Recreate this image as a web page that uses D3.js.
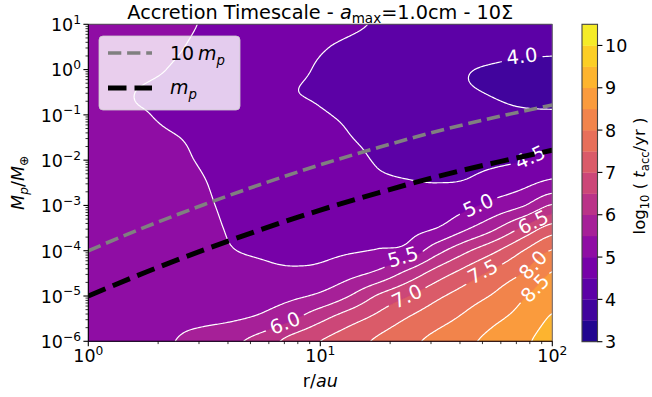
<!DOCTYPE html>
<html><head><meta charset="utf-8">
<script src="https://cdn.jsdelivr.net/npm/d3@7"></script>
<style>
body{margin:0;background:#fff;}
svg text{font-family:"DejaVu Sans",sans-serif;white-space:pre;}
</style></head><body>
<svg id="chart" width="652" height="397"></svg>
<script>
// ---------------- data ----------------
const radius = [1, 1.334, 1.778, 2.371, 3.162, 4.217, 5.623, 7.499, 10, 13.34, 17.78, 23.71, 31.62, 42.17, 56.23, 74.99, 100];
const mass = [10, 3.162, 1, 0.3162, 0.1, 0.03162, 0.01, 0.003162, 0.001, 3.162e-4, 1e-4, 3.162e-5, 1e-5, 3.162e-6, 1e-6];
// log10(t_acc / yr), one row per mass (top to bottom), one column per radius
const logTacc = [
  [5.25, 5.18, 5.12, 5.06, 4.98, 4.90, 4.82, 4.73, 4.65, 4.56, 4.47, 4.42, 4.37, 4.32, 4.27, 4.23, 4.20],
  [5.22, 5.16, 5.10, 5.03, 4.93, 4.83, 4.73, 4.63, 4.53, 4.44, 4.36, 4.29, 4.23, 4.17, 4.12, 4.09, 4.07],
  [5.18, 5.12, 5.06, 4.97, 4.87, 4.77, 4.67, 4.57, 4.47, 4.38, 4.29, 4.20, 4.12, 4.02, 3.97, 3.93, 3.91],
  [5.13, 5.05, 4.97, 4.90, 4.82, 4.73, 4.65, 4.52, 4.46, 4.36, 4.27, 4.18, 4.10, 4.03, 3.98, 3.92, 3.90],
  [5.11, 5.04, 5.01, 4.93, 4.85, 4.77, 4.69, 4.61, 4.53, 4.45, 4.37, 4.29, 4.21, 4.15, 4.10, 4.06, 4.05],
  [5.12, 5.09, 5.06, 5.01, 4.94, 4.87, 4.80, 4.72, 4.63, 4.51, 4.44, 4.41, 4.38, 4.36, 4.35, 4.34, 4.34],
  [5.17, 5.14, 5.10, 5.05, 4.97, 4.88, 4.80, 4.72, 4.64, 4.57, 4.48, 4.44, 4.41, 4.41, 4.43, 4.49, 4.63],
  [5.20, 5.18, 5.15, 5.10, 5.01, 4.90, 4.80, 4.71, 4.64, 4.60, 4.55, 4.52, 4.50, 4.53, 4.70, 4.87, 5.11],
  [5.25, 5.22, 5.18, 5.12, 5.04, 4.93, 4.84, 4.78, 4.69, 4.70, 4.72, 4.72, 4.75, 4.88, 5.16, 5.47, 6.05],
  [5.27, 5.25, 5.22, 5.16, 5.08, 4.96, 4.88, 4.83, 4.78, 4.81, 4.87, 4.88, 5.00, 5.42, 5.92, 6.58, 7.21],
  [5.28, 5.27, 5.24, 5.20, 5.12, 5.01, 4.95, 4.88, 4.90, 4.96, 5.03, 5.15, 5.81, 6.40, 6.92, 7.50, 8.03],
  [5.30, 5.29, 5.27, 5.25, 5.20, 5.14, 5.10, 5.08, 5.13, 5.35, 5.62, 6.14, 6.72, 7.20, 7.63, 8.02, 8.53],
  [5.32, 5.31, 5.30, 5.31, 5.30, 5.30, 5.31, 5.41, 5.60, 6.00, 6.56, 6.97, 7.39, 7.74, 8.06, 8.45, 8.80],
  [5.34, 5.34, 5.34, 5.39, 5.40, 5.46, 5.60, 5.92, 6.38, 6.80, 7.15, 7.52, 7.81, 8.10, 8.41, 8.68, 9.05],
  [5.36, 5.37, 5.40, 5.50, 5.70, 5.90, 6.22, 6.67, 7.00, 7.28, 7.58, 7.87, 8.13, 8.39, 8.65, 8.91, 9.20]
];
const fillLevels = [3.0, 3.5, 4.0, 4.5, 5.0, 5.5, 6.0, 6.5, 7.0, 7.5, 8.0, 8.5, 9.0, 9.5, 10.0, 10.5];
const lineLevels = [4.0, 4.5, 5.0, 5.5, 6.0, 6.5, 7.0, 7.5, 8.0, 8.5, 9.0];
// contour label anchor points
const labelLevels = [4.0, 4.5, 5.0, 5.5, 6.0, 6.5, 7.0, 7.5, 8.0, 8.5];
const labelR = [73.9, 80.2, 47.9, 22.7, 7.03, 82.6, 23.6, 50.1, 82.4, 84.1];
const labelM = [2.0, 0.0117, 1.02e-3, 7.4e-5, 2.57e-6, 4.3e-4, 1.0e-5, 3.5e-5, 4.9e-5, 1.5e-5];
// pebble isolation mass curve
const isoR = [1, 1.778, 3.162, 5.623, 10, 17.78, 31.62, 56.23, 100];
const isoM = [1.0e-5, 3.4e-5, 1.05e-4, 3.0e-4, 7.9e-4, 1.9e-3, 4.3e-3, 8.7e-3, 1.66e-2];
const isoM10 = [1.0e-4, 3.4e-4, 1.05e-3, 3.0e-3, 7.9e-3, 1.9e-2, 4.3e-2, 8.7e-2, 1.66e-1];
const xTickVals = [1, 10, 100];
const xTickExp = ["0", "1", "2"];
const yTickVals = [1e-6, 1e-5, 1e-4, 1e-3, 1e-2, 1e-1, 1, 10];
const yTickExp = ["\u22126", "\u22125", "\u22124", "\u22123", "\u22122", "\u22121", "0", "1"];
const cbTicks = [3, 4, 5, 6, 7, 8, 9, 10];

// ---------------- layout ----------------
const M = {left: 88.3, right: 552.3, top: 24.3, bottom: 341.3};
const CB = {x: 582, w: 15.5, top: 24.3, bottom: 341.7};
const FS = 17.5;
const svg = d3.select("#chart");
const x = d3.scaleLog().domain([1, 100]).range([M.left, M.right]);
const y = d3.scaleLog().domain([1e-6, 10]).range([M.bottom, M.top]);
const cbY = d3.scaleLinear().domain([3, 10.5]).range([CB.bottom, CB.top]);
const colorOf = lv => d3.interpolatePlasma((lv + 0.25 - 3) / 7.5);

function rich(sel, segs, size) {
  let cur = 0;
  segs.forEach(s => {
    const want = s.sub ? 0.25 * size : (s.sup ? -0.42 * size : 0);
    const ts = sel.append("tspan").text(s.t)
      .attr("font-size", (s.sub || s.sup) ? size * 0.7 : size)
      .attr("dy", want - cur);
    if (s.it) ts.attr("font-style", "italic");
    cur = want;
  });
  return sel;
}

// ---------------- field ----------------
const nC = radius.length, nR = mass.length;
function gv(i, j) { i = Math.max(0, Math.min(nC - 1, i)); j = Math.max(0, Math.min(nR - 1, j)); return logTacc[j][i]; }
function cr(p0, p1, p2, p3, t) {
  return 0.5 * ((2 * p1) + (-p0 + p2) * t + (2 * p0 - 5 * p1 + 4 * p2 - p3) * t * t + (-p0 + 3 * p1 - 3 * p2 + p3) * t * t * t);
}
function field(u, v) {
  u = Math.max(0, Math.min(nC - 1, u)); v = Math.max(0, Math.min(nR - 1, v));
  const i = Math.min(nC - 2, Math.floor(u)), t = u - i;
  const j = Math.min(nR - 2, Math.floor(v)), s = v - j;
  const r = [];
  for (let k = -1; k <= 2; k++) r.push(cr(gv(i - 1, j + k), gv(i, j + k), gv(i + 1, j + k), gv(i + 2, j + k), t));
  return cr(r[0], r[1], r[2], r[3], s);
}
const h = 0.05, pad = 3;
const nx = Math.round((nC - 1) / h) + 1 + 2 * pad, ny = Math.round((nR - 1) / h) + 1 + 2 * pad;
const vals = new Float64Array(nx * ny);
for (let b = 0; b < ny; b++) for (let a = 0; a < nx; a++) vals[b * nx + a] = field((a - pad) * h, (b - pad) * h);
const xs = radius.map(r => x(r)), ys = mass.map(m => y(m));
function pxU(u) { const i = Math.max(0, Math.min(nC - 2, Math.floor(u))); return xs[i] + (u - i) * (xs[i + 1] - xs[i]); }
function pyV(v) { const j = Math.max(0, Math.min(nR - 2, Math.floor(v))); return ys[j] + (v - j) * (ys[j + 1] - ys[j]); }
const proj = d3.geoTransform({point(cx, cy) { this.stream.point(pxU((cx - 0.5 - pad) * h), pyV((cy - 0.5 - pad) * h)); }});
const gpath = d3.geoPath(proj);

const defs = svg.append("defs");
defs.append("clipPath").attr("id", "plotclip").append("rect")
  .attr("x", M.left).attr("y", M.top).attr("width", M.right - M.left).attr("height", M.bottom - M.top);

// filled bands
const bands = d3.contours().size([nx, ny]).thresholds(fillLevels)(vals);
const gFill = svg.append("g").attr("clip-path", "url(#plotclip)");
gFill.selectAll("path").data(bands).join("path")
  .attr("d", gpath).attr("fill", d => colorOf(d.value))
  .attr("stroke", d => colorOf(d.value)).attr("stroke-width", 0.4);

// contour label geometry
const du = 0.01;
const labels = labelLevels.map((lv, k) => {
  const px = x(labelR[k]), py = y(labelM[k]);
  const u = (px - xs[0]) / (xs[1] - xs[0]), v = (py - ys[0]) / (ys[1] - ys[0]);
  const gx = (field(u + du, v) - field(u - du, v)) / (2 * du) / (xs[1] - xs[0]);
  const gy = (field(u, v + du) - field(u, v - du)) / (2 * du) / (ys[1] - ys[0]);
  let ang = Math.atan2(gx, -gy) * 180 / Math.PI;
  if (ang > 90) ang -= 180; if (ang < -90) ang += 180;
  return {lv, px, py, ang};
});
const mask = defs.append("mask").attr("id", "lblmask").attr("maskUnits", "userSpaceOnUse")
  .attr("x", 0).attr("y", 0).attr("width", 652).attr("height", 397);
mask.append("rect").attr("x", 0).attr("y", 0).attr("width", 652).attr("height", 397).attr("fill", "#fff");

const gLines = svg.append("g").attr("clip-path", "url(#plotclip)");
const gL2 = gLines.append("g").attr("mask", "url(#lblmask)");
const lines = d3.contours().size([nx, ny]).thresholds(lineLevels)(vals);
gL2.selectAll("path").data(lines).join("path")
  .attr("d", gpath).attr("fill", "none").attr("stroke", "#fff").attr("stroke-width", 1.2);

const gLab = svg.append("g");
labels.forEach(L => {
  const t = gLab.append("text").text(L.lv.toFixed(1))
    .attr("font-size", 19.5).attr("fill", "#fff").attr("text-anchor", "middle")
    .attr("transform", `translate(${L.px},${L.py}) rotate(${L.ang})`).attr("dy", "0.36em");
  const w = t.node().getComputedTextLength();
  mask.append("rect").attr("x", -w / 2 - 5).attr("y", -8).attr("width", w + 10).attr("height", 16)
    .attr("fill", "#000").attr("transform", `translate(${L.px},${L.py}) rotate(${L.ang})`);
});

// isolation mass lines
const line = d3.line().x((d, i) => x(isoR[i])).y(d => y(d)).curve(d3.curveMonotoneX);
const gIso = svg.append("g").attr("clip-path", "url(#plotclip)");
gIso.append("path").attr("d", line(isoM10)).attr("fill", "none").attr("stroke", "#808080")
  .attr("stroke-width", 3.6).attr("stroke-dasharray", "13.3,5.8");
gIso.append("path").attr("d", line(isoM)).attr("fill", "none").attr("stroke", "#000")
  .attr("stroke-width", 5).attr("stroke-dasharray", "18.5,8");

// spines
svg.append("line").attr("x1", M.left).attr("x2", M.right).attr("y1", M.top).attr("y2", M.top).attr("stroke", "#555").attr("stroke-width", 1.1);
svg.append("line").attr("x1", M.right).attr("x2", M.right).attr("y1", M.top).attr("y2", M.bottom).attr("stroke", "#777").attr("stroke-width", 1.1);
svg.append("line").attr("x1", M.left).attr("x2", M.left).attr("y1", M.top).attr("y2", M.bottom).attr("stroke", "#000").attr("stroke-width", 1.1);
svg.append("line").attr("x1", M.left).attr("x2", M.right).attr("y1", M.bottom).attr("y2", M.bottom).attr("stroke", "#000").attr("stroke-width", 1.1);

// ticks
const gAx = svg.append("g");
const xMinor = [], yMinor = [];
[1, 10].forEach(d => { for (let k = 2; k <= 9; k++) xMinor.push(d * k); });
[1e-6, 1e-5, 1e-4, 1e-3, 1e-2, 1e-1, 1].forEach(d => { for (let k = 2; k <= 9; k++) yMinor.push(d * k); });
xMinor.forEach(v => gAx.append("line").attr("x1", x(v)).attr("x2", x(v)).attr("y1", M.bottom).attr("y2", M.bottom + 2.8).attr("stroke", "#000").attr("stroke-width", 0.8));
yMinor.forEach(v => gAx.append("line").attr("y1", y(v)).attr("y2", y(v)).attr("x1", M.left).attr("x2", M.left - 2.8).attr("stroke", "#000").attr("stroke-width", 0.8));
xTickVals.forEach((v, i) => {
  gAx.append("line").attr("x1", x(v)).attr("x2", x(v)).attr("y1", M.bottom).attr("y2", M.bottom + 4.9).attr("stroke", "#000").attr("stroke-width", 1.1);
  rich(gAx.append("text").attr("x", x(v)).attr("y", 362).attr("text-anchor", "middle"), [{t: "10"}, {t: xTickExp[i], sup: 1}], FS);
});
yTickVals.forEach((v, i) => {
  gAx.append("line").attr("y1", y(v)).attr("y2", y(v)).attr("x1", M.left).attr("x2", M.left - 4.9).attr("stroke", "#000").attr("stroke-width", 1.1);
  rich(gAx.append("text").attr("x", 81).attr("y", y(v) + 6.8).attr("text-anchor", "end"), [{t: "10"}, {t: yTickExp[i], sup: 1}], FS);
});

// axis labels & title
rich(svg.append("text").attr("x", (M.left + M.right) / 2).attr("y", 387).attr("text-anchor", "middle"), [{t: "r/"}, {t: "au", it: 1}], FS);
rich(svg.append("text").attr("transform", `translate(24,${(M.top + M.bottom) / 2}) rotate(-90)`).attr("text-anchor", "middle"),
  [{t: "M", it: 1}, {t: "p", it: 1, sub: 1}, {t: "/"}, {t: "M", it: 1}, {t: "\u2295", sub: 1}], FS);
rich(svg.append("text").attr("x", (M.left + M.right) / 2).attr("y", 18.5).attr("text-anchor", "middle"),
  [{t: "Accretion Timescale - "}, {t: "a", it: 1}, {t: "max", sub: 1}, {t: "=1.0cm - 10\u03A3"}], 19.3);

// legend
const lg = svg.append("g");
lg.append("rect").attr("x", 99).attr("y", 36).attr("width", 141).attr("height", 74).attr("rx", 4)
  .attr("fill", "#fff").attr("fill-opacity", 0.8).attr("stroke", "#ccc").attr("stroke-opacity", 0.8);
lg.append("line").attr("x1", 108).attr("x2", 152).attr("y1", 53).attr("y2", 53).attr("stroke", "#808080")
  .attr("stroke-width", 3.6).attr("stroke-dasharray", "13.3,5.8");
lg.append("line").attr("x1", 108).attr("x2", 152).attr("y1", 88).attr("y2", 88).attr("stroke", "#000")
  .attr("stroke-width", 5).attr("stroke-dasharray", "18.5,8");
rich(lg.append("text").attr("x", 170).attr("y", 60), [{t: "10\u2009"}, {t: "m", it: 1}, {t: "p", it: 1, sub: 1}], 19);
rich(lg.append("text").attr("x", 170).attr("y", 94), [{t: "m", it: 1}, {t: "p", it: 1, sub: 1}], 19);

// colorbar
const gCb = svg.append("g");
fillLevels.slice(0, -1).forEach(lv => {
  gCb.append("rect").attr("x", CB.x).attr("width", CB.w).attr("y", cbY(lv + 0.5)).attr("height", cbY(lv) - cbY(lv + 0.5) + 0.3)
    .attr("fill", colorOf(lv));
});
gCb.append("rect").attr("x", CB.x).attr("width", CB.w).attr("y", CB.top).attr("height", CB.bottom - CB.top)
  .attr("fill", "none").attr("stroke", "#444").attr("stroke-width", 1.1);
cbTicks.forEach(v => {
  gCb.append("line").attr("x1", CB.x + CB.w).attr("x2", CB.x + CB.w + 4.9).attr("y1", cbY(v)).attr("y2", cbY(v)).attr("stroke", "#000").attr("stroke-width", 1.1);
  gCb.append("text").attr("x", 605).attr("y", cbY(v) + 6.5).attr("font-size", FS).text(v);
});
rich(svg.append("text").attr("transform", `translate(645,176) rotate(-90)`).attr("text-anchor", "middle"),
  [{t: "log"}, {t: "10", sub: 1}, {t: " ( "}, {t: "t", it: 1}, {t: "acc", sub: 1}, {t: "/yr )"}], 16.5);
</script>
</body></html>
